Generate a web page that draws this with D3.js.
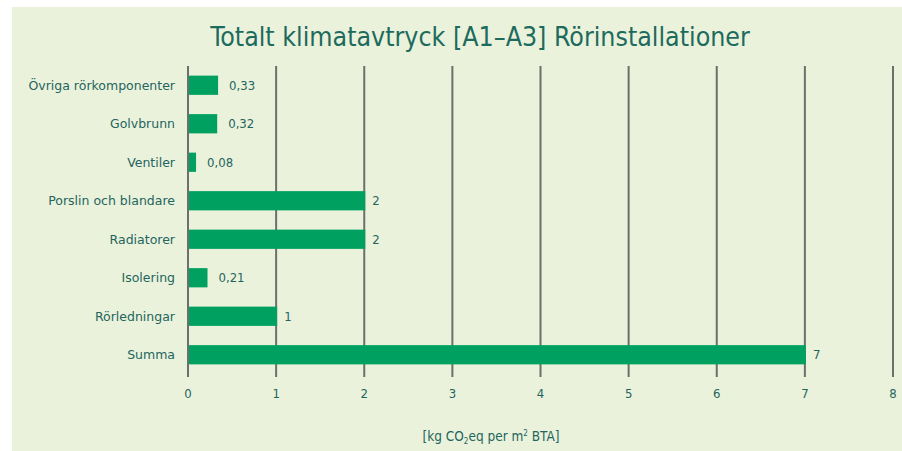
<!DOCTYPE html>
<html>
<head>
<meta charset="utf-8">
<script src="https://cdn.jsdelivr.net/npm/d3@7"></script>
<style>
body { margin: 0; background: #fff; }
text { font-family: "DejaVu Sans Condensed", "DejaVu Sans", sans-serif; }
</style>
</head>
<body>
<div id="drawhere"></div>
<script>
// data
var categories = ["Övriga rörkomponenter", "Golvbrunn", "Ventiler", "Porslin och blandare",
    "Radiatorer", "Isolering", "Rörledningar", "Summa"];
var values = [0.33, 0.32, 0.08, 2, 2, 0.21, 1, 7];
var valueLabels = ["0,33", "0,32", "0,08", "2", "2", "0,21", "1", "7"];
var ticks = [0, 1, 2, 3, 4, 5, 6, 7, 8];

var textColor = "#23655c";

var svg = d3.select("#drawhere").append("svg")
    .attr("width", 902)
    .attr("height", 451);

// panel background
svg.append("rect")
    .attr("x", 12)
    .attr("y", 7)
    .attr("width", 890)
    .attr("height", 444)
    .attr("fill", "#ebf2dc");

var x = d3.scaleLinear().domain([0, 8]).range([188, 893]);
var y = d3.scaleBand().domain(categories).range([66, 374]).paddingInner(0.5).paddingOuter(0.25);

// gridlines
svg.append("g").selectAll("line")
    .data(ticks)
    .enter().append("line")
    .attr("x1", function(d) { return x(d); })
    .attr("x2", function(d) { return x(d); })
    .attr("y1", 66)
    .attr("y2", 377)
    .attr("stroke", "#6e6e6a")
    .attr("stroke-width", 2);

// bars
svg.append("g").selectAll("rect")
    .data(values)
    .enter().append("rect")
    .attr("x", x(0) + 1)
    .attr("y", function(d, i) { return y(categories[i]); })
    .attr("width", function(d) { return x(d) - x(0); })
    .attr("height", y.bandwidth())
    .attr("fill", "#00a160");

// value labels
svg.append("g").selectAll("text")
    .data(values)
    .enter().append("text")
    .attr("x", function(d) { return x(d) + (d < 1 ? 12 : 8); })
    .attr("y", function(d, i) { return y(categories[i]) + y.bandwidth() / 2; })
    .attr("dy", "0.35em")
    .attr("font-size", 13)
    .attr("fill", textColor)
    .text(function(d, i) { return valueLabels[i]; });

// category labels
svg.append("g").selectAll("text")
    .data(categories)
    .enter().append("text")
    .attr("x", 175)
    .attr("y", function(d) { return y(d) + y.bandwidth() / 2; })
    .attr("dy", "0.35em")
    .attr("text-anchor", "end")
    .attr("font-size", 12.5)
    .style("font-family", "'DejaVu Sans'")
    .attr("fill", textColor)
    .text(function(d) { return d; });

// tick labels
svg.append("g").selectAll("text")
    .data(ticks)
    .enter().append("text")
    .attr("x", function(d) { return x(d); })
    .attr("y", 398)
    .attr("text-anchor", "middle")
    .attr("font-size", 13)
    .attr("fill", textColor)
    .text(function(d) { return d; });

// title
svg.append("text")
    .attr("x", 480)
    .attr("y", 46)
    .attr("text-anchor", "middle")
    .attr("font-size", 26.5)
    .attr("fill", "#1d6b5c")
    .text("Totalt klimatavtryck [A1–A3] Rörinstallationer");

// axis title
var ax = svg.append("text")
    .attr("x", 491)
    .attr("y", 441)
    .attr("text-anchor", "middle")
    .attr("font-size", 13.5)
    .attr("fill", textColor);
ax.append("tspan").text("[kg CO");
ax.append("tspan").attr("font-size", 8).attr("dy", 3).text("2");
ax.append("tspan").attr("dy", -3).text("eq per m");
ax.append("tspan").attr("font-size", 8).attr("dy", -5).text("2");
ax.append("tspan").attr("dy", 5).text(" BTA]");
</script>
</body>
</html>
